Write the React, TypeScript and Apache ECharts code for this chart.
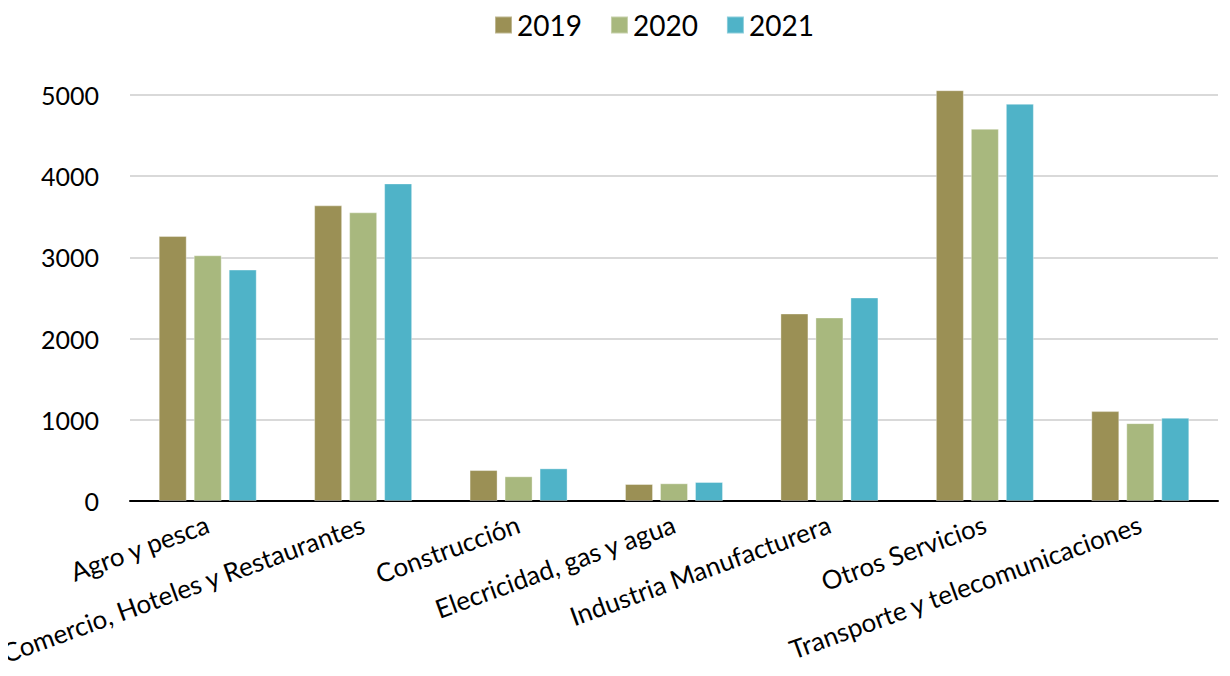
import React, { useEffect, useRef } from "react";
import * as echarts from "echarts";

const categories = [
  "Agro y pesca",
  "Comercio, Hoteles y Restaurantes",
  "Construcción",
  "Elecricidad, gas y agua",
  "Industria Manufacturera",
  "Otros Servicios",
  "Transporte y telecomunicaciones",
];
const s2019 = [3263, 3641, 381, 209, 2309, 5059, 1107];
const s2020 = [3026, 3555, 304, 218, 2260, 4584, 959];
const s2021 = [2850, 3911, 402, 234, 2506, 4892, 1025];
const yTicks = [0, 1000, 2000, 3000, 4000, 5000];

const FONT = "Lato, 'Open Sans', sans-serif";

export default function App() {
  const ref = useRef<HTMLDivElement>(null);
  useEffect(() => {
    if (!ref.current) return;
    const chart = echarts.init(ref.current, null, { renderer: "svg" });
    const mk = (name: string, data: number[], color: string) => ({
      name,
      type: "bar",
      data,
      barWidth: 28,
      barGap: "25%",
      clip: false,
      itemStyle: { color, borderColor: "rgba(255,255,255,0.35)", borderWidth: 1 },
    });
    chart.setOption({
      animation: false,
      backgroundColor: "#ffffff",
      textStyle: { fontFamily: FONT },
      legend: {
        top: 6,
        left: 489,
        itemWidth: 17,
        itemHeight: 17,
        itemGap: 28,
        icon: "rect",
        textStyle: { fontSize: 28, color: "#000", fontFamily: FONT },
        data: ["2019", "2020", "2021"],
      },
      grid: {
        left: 130,
        right: 12,
        top: 95,
        bottom: 175,
        containLabel: false,
        outerBoundsMode: "none",
      },
      xAxis: {
        type: "category",
        data: categories,
        axisLine: { show: true, lineStyle: { color: "#000", width: 2 } },
        axisTick: { show: false },
        axisLabel: {
          rotate: 20,
          interval: 0,
          fontSize: 26,
          color: "#000",
          margin: 22,
          fontFamily: FONT,
        },
      },
      yAxis: {
        type: "value",
        min: yTicks[0],
        max: yTicks[yTicks.length - 1],
        interval: 1000,
        axisLine: { show: false },
        axisTick: { show: false },
        axisLabel: {
          fontSize: 25,
          color: "#000",
          margin: 31,
          fontFamily: FONT,
          formatter: (v: number) => String(v),
        },
        splitLine: { lineStyle: { color: "#d9d9d9", width: 2 } },
      },
      series: [
        mk("2019", s2019, "#9b9055"),
        mk("2020", s2020, "#a8b87e"),
        mk("2021", s2021, "#4fb3c8"),
      ],
    });
    return () => chart.dispose();
  }, []);
  return <div ref={ref} style={{ width: 1230, height: 676, margin: -8 }} />;
}
